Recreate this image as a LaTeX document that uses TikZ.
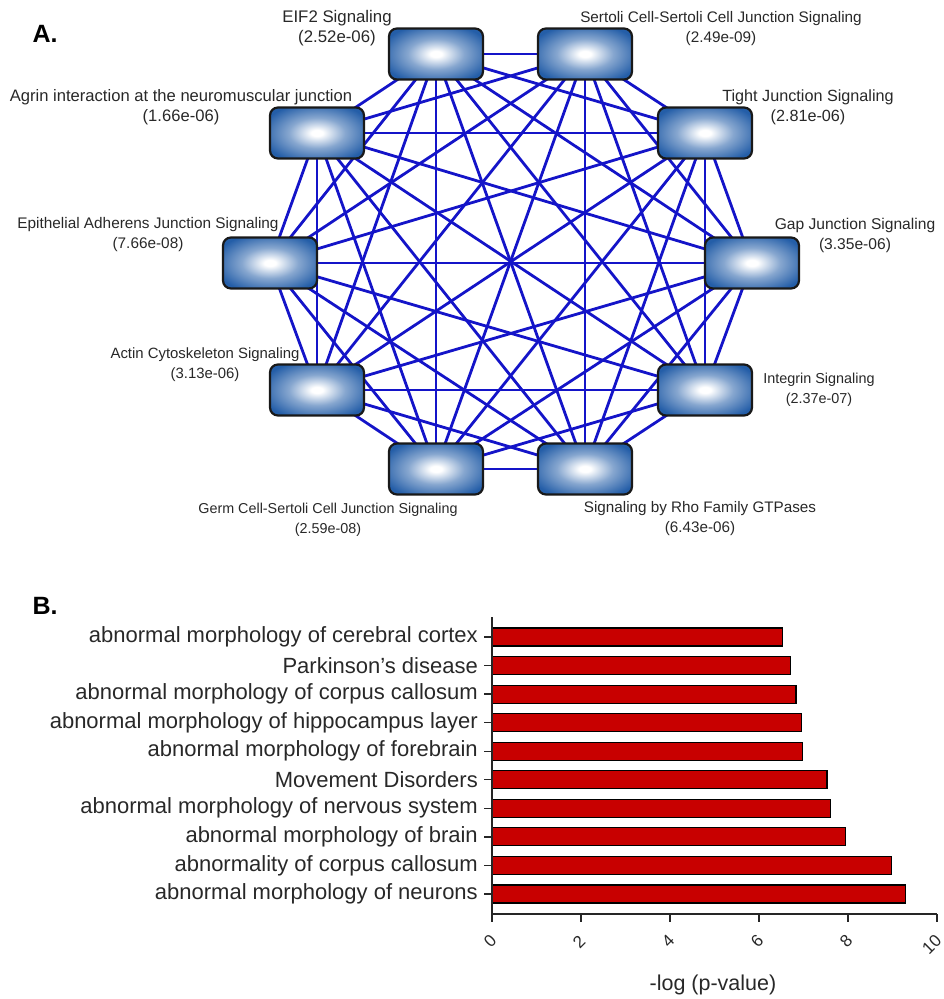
\documentclass[tikz,border=0pt]{standalone}
\usepackage{fontspec}
\setmainfont{Liberation Sans}
\usetikzlibrary{backgrounds}

\definecolor{boxblue}{RGB}{36,94,168}
\definecolor{edgeblue}{RGB}{20,20,200}
\definecolor{barred}{RGB}{200,0,0}
\definecolor{lblgray}{RGB}{40,40,40}
\pgfdeclareradialshading{boxglow}{\pgfpoint{0bp}{0bp}}{color(0bp)=(white); color(3bp)=(white); color(15bp)=(boxblue!55!white); color(30bp)=(boxblue); color(50bp)=(boxblue)}

\tikzset{
  panel/.style={font=\fontsize{25}{28}\selectfont\bfseries},
  pathbox/.style={draw=black!90, line width=2.2pt, rounded corners=8pt, minimum width=94pt, minimum height=51pt, inner sep=0pt, shading=boxglow},
  pathlbl/.style={align=center, text=lblgray, font=\fontsize{#1}{20}\selectfont},
  pathlbl/.default=15.5,
  overlap/.style={draw=edgeblue, line width=2.8pt},
  bar/.style={draw=black, line width=1.2pt, fill=barred},
  barlbl/.style={anchor=east, inner sep=0pt, text=lblgray, font=\fontsize{22}{24}\selectfont},
  ticklbl/.style={anchor=east, inner sep=0pt, rotate=45, text=lblgray, font=\fontsize{17}{19}\selectfont},
  axisline/.style={draw=black!85, line width=1.3pt}
}

\begin{document}
\begin{tikzpicture}[x=1pt,y=-1pt]
\useasboundingbox (0,0) rectangle (944,999);

% A. pathway overlap network
\node[panel] (panA) at (45,34) {A.};

\node[pathbox] (eif) at (436,54) {};
\node[pathbox] (ser) at (585,54) {};
\node[pathbox] (tig) at (705,133) {};
\node[pathbox] (gap) at (752,263) {};
\node[pathbox] (itg) at (705,390) {};
\node[pathbox] (rho) at (585,469) {};
\node[pathbox] (grm) at (436,469) {};
\node[pathbox] (act) at (317,390) {};
\node[pathbox] (epi) at (270,263) {};
\node[pathbox] (agr) at (317,133) {};

\begin{scope}[on background layer]
\foreach \a [count=\i] in {eif,ser,tig,gap,itg,rho,grm,act,epi,agr}
  \foreach \b [count=\j] in {eif,ser,tig,gap,itg,rho,grm,act,epi,agr}
    {\ifnum\j>\i \draw[overlap] (\a.center) -- (\b.center); \fi}
\end{scope}

\node[pathlbl=16.8] (eiflbl) at (337,28.5) {EIF2 Signaling\\(2.52e-06)};
\node[pathlbl=15.3] (serlbl) at (721,29) {Sertoli Cell-Sertoli Cell Junction Signaling\\(2.49e-09)};
\node[pathlbl=16.2] (tiglbl) at (808,107) {Tight Junction Signaling\\(2.81e-06)};
\node[pathlbl=15.6] (gaplbl) at (855,235.5) {Gap Junction Signaling\\(3.35e-06)};
\node[pathlbl=14.4] (itglbl) at (819,389.5) {Integrin Signaling\\(2.37e-07)};
\node[pathlbl=15.25] (rholbl) at (700,518.5) {Signaling by Rho Family GTPases\\(6.43e-06)};
\node[pathlbl=14.35] (grmlbl) at (328,520) {Germ Cell-Sertoli Cell Junction Signaling\\(2.59e-08)};
\node[pathlbl=14.9] (actlbl) at (205,364.5) {Actin Cytoskeleton Signaling\\(3.13e-06)};
\node[pathlbl=15.35] (epilbl) at (148,235) {Epithelial Adherens Junction Signaling\\(7.66e-08)};
\node[pathlbl=16.6] (agrlbl) at (181,107) {Agrin interaction at the neuromuscular junction\\(1.66e-06)};

% B. bar chart
\node[panel] (panB) at (45,606) {B.};

\foreach \v/\t [count=\k] in {6.52/abnormal morphology of cerebral cortex,
    6.70/Parkinson's disease,
    6.83/abnormal morphology of corpus callosum,
    6.95/abnormal morphology of hippocampus layer,
    6.98/abnormal morphology of forebrain,
    7.53/Movement Disorders,
    7.60/abnormal morphology of nervous system,
    7.94/abnormal morphology of brain,
    8.97/abnormality of corpus callosum,
    9.30/abnormal morphology of neurons}
{
  \pgfmathsetmacro\yy{608.45+28.55*\k}
  \draw[bar] (492,{\yy-9}) rectangle ({492+44.5*\v},{\yy+9});
  \draw[axisline] (484,\yy) -- (492,\yy);
  \node[barlbl] (cat\k) at (478,\yy) {\t};
}

\draw[axisline] (492,617) -- (492,914) -- (937,914);
\foreach \t in {0,2,...,10}
{
  \draw[axisline] ({492+44.5*\t},914) -- ++(0,8);
  \node[ticklbl] (tick\t) at ({493.5+44.5*\t},938) {\t};
}
\node[text=lblgray, font=\fontsize{21.5}{23}\selectfont] (xlbl) at (713,985) {-log (p-value)};

\end{tikzpicture}
\end{document}
